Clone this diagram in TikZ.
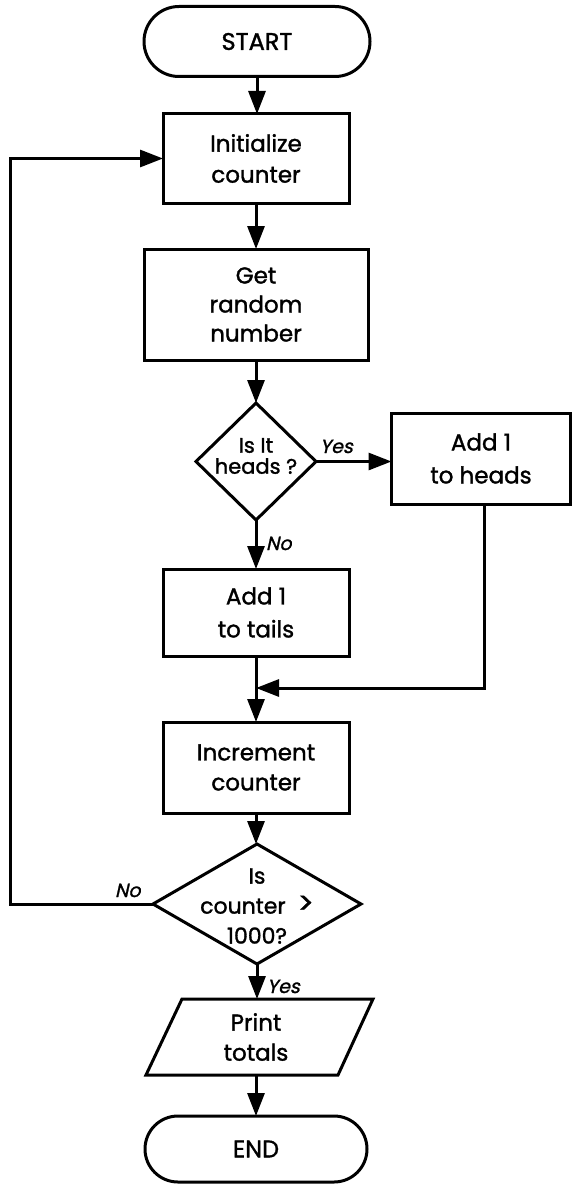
\documentclass[tikz,border=0pt]{standalone}
\usepackage{fontspec}
\setmainfont{Poppins}[FakeBold=1.4]
\newfontfamily\lblfont[FakeSlant=0.22,FakeBold=1.2]{Poppins}
\usetikzlibrary{shapes.geometric,shapes.misc,arrows.meta}

\begin{document}
\begin{tikzpicture}[x=1pt,y=-1pt,
  line width=3pt,
  every node/.style={inner sep=0pt, outer sep=0pt},
  terminal/.style={draw, rounded rectangle, font=\fontsize{24}{30}\selectfont},
  procbox/.style={draw, rectangle, align=center, font=\fontsize{23}{31}\selectfont},
  decision/.style={draw, diamond, line join=miter},
  lbl/.style={font=\lblfont\fontsize{19}{20}\selectfont, anchor=base west},
  flow/.style={-{Triangle[length=23pt,width=17pt]}},
]
\useasboundingbox (0,0) rectangle (573,1185);
\fill[white] (0,0) rectangle (573,1185);

% terminals and process boxes
\node[terminal, minimum width=226pt, minimum height=70pt] (start) at (257,41.5) {START};
\node[procbox, minimum width=186pt, minimum height=89pt] (init) at (256,158.5) {Initialize\\counter};
\node[procbox, minimum width=224pt, minimum height=111pt, font=\fontsize{23}{29}\selectfont] (rand) at (256,304.5) {Get\\random\\number};

% first decision
\node[decision, minimum width=120pt, minimum height=117pt] (d1) at (256,461.5) {};
\node[align=center, font=\fontsize{21}{21}\selectfont] (d1txt) at (256,456) {Is It\\heads ?};

\node[procbox, minimum width=179pt, minimum height=91pt, font=\fontsize{23}{33}\selectfont] (heads) at (481,458.5) {Add 1\\to heads};
\node[procbox, minimum width=186pt, minimum height=87pt, font=\fontsize{23}{33}\selectfont] (tails) at (256,612.5) {Add 1\\to tails};
\node[procbox, minimum width=186pt, minimum height=91pt, font=\fontsize{23}{30}\selectfont] (incr) at (256,767.5) {Increment\\counter};

% second decision
\node[decision, minimum width=208pt, minimum height=120pt] (d2) at (257,904) {};
\node[align=center, font=\fontsize{22}{30}\selectfont] (d2txt) at (257,906) {Is\\counter\hspace{12pt}{\fontsize{30}{30}\selectfont >}\\1000?};

% output
\draw[line join=miter] (182,999) -- (373,999) -- (338,1075) -- (146,1075) -- cycle;
\node[minimum width=190pt, minimum height=76pt, align=center, font=\fontsize{23}{30}\selectfont] (print) at (256,1037) {Print\\totals};

\node[terminal, minimum width=222pt, minimum height=66pt] (end) at (256,1149) {END};

% junction and loop corner
\coordinate (join) at (256,688);
\coordinate (loopcorner) at (10,904);

% connectors
\draw[flow] (start.south) -- (start.south |- init.north);
\draw[flow] (init.south) -- (init.south |- rand.north);
\draw[flow] (rand.south) -- (rand.south |- d1.north);
\draw[flow] (d1.east) -- (d1.east -| heads.west);
\draw[flow] (d1.south) -- (d1.south |- tails.north);
\draw[flow] (tails.south) -- (tails.south |- incr.north);
\draw[flow] ([xshift=3pt]heads.south) |- (join);
\draw[flow] (incr.south) -- (incr.south |- d2.north);
\draw[flow] (d2.south) -- (d2.south |- print.north);
\draw[flow] (print.south) -- (print.south |- end.north);
\draw[flow, line join=miter] (d2.west) -- (loopcorner) |- (init.west);

% branch labels
\node[lbl] (yes1) at (320,453) {Yes};
\node[lbl] (no1) at (266,550) {No};
\node[lbl] (no2) at (115,897) {No};
\node[lbl] (yes2) at (267,993) {Yes};
\end{tikzpicture}
\end{document}
